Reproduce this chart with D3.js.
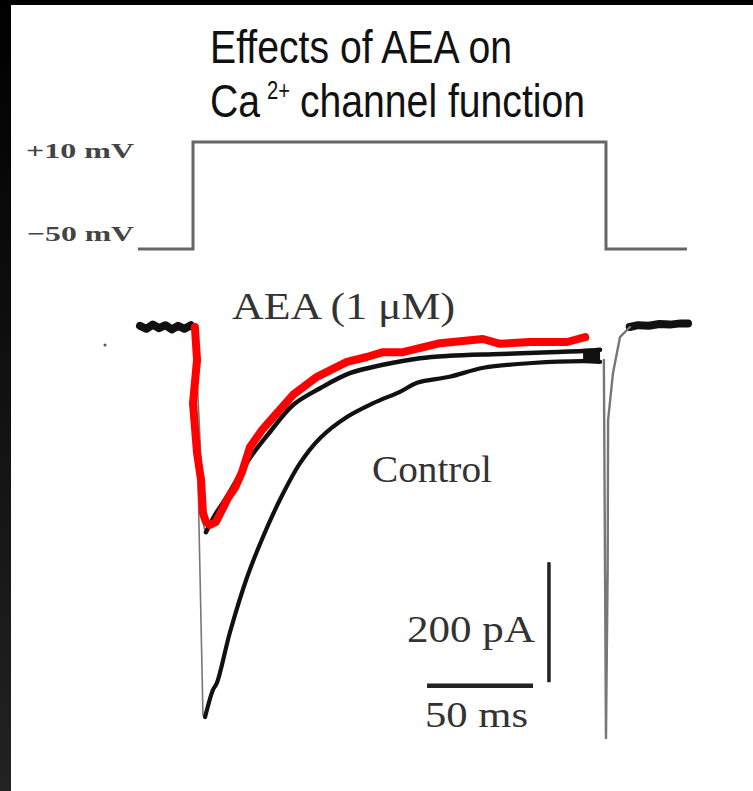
<!DOCTYPE html>
<html>
<head>
<meta charset="utf-8">
<script src="https://cdn.jsdelivr.net/npm/d3@7"></script>
<style>
  html, body { margin: 0; padding: 0; background: #fff; }
  svg { display: block; }
</style>
</head>
<body>
<script>
// ---------- data (time in ms, current in pA, voltage in mV) ----------
const stepT = [-26, 0, 0, 194.8, 194.8, 233];
const stepV = [-50, -50, 10, 10, -50, -50];
const voltageTicks = ["+10 mV", "\u221250 mV"];

const preBaseT = [-25, -22, -19, -16, -13, -10, -7, -4, -1, 0];
const preBaseI = [2, -3, 4, -2, 3, -4, 2, -3, 3, 0];

const controlOnsetT = [0.9, 4.7, 5.7];
const controlOnsetI = [-5, -647, -650];
const controlT = [5.7, 9.4, 11.3, 17.5, 25.5, 33, 41, 50.5, 60, 72.6, 85, 97.6, 105.7, 121, 137, 160, 184, 192];
const controlI = [-650, -605, -593, -508, -417, -350, -288, -227, -185, -150, -127, -108, -93, -83, -68, -60, -57, -58];

const aeaOnsetT = [0.9, 5.2, 6.1];
const aeaOnsetI = [-5, -335, -342];
const aeaT = [6.1, 10.4, 15.1, 19.8, 26.9, 36.3, 47.2, 60, 74, 89.6, 107, 121, 145, 168, 184, 192];
const aeaI = [-342, -313, -288, -260, -218, -175, -130, -102, -77, -63, -52, -48, -45, -42, -40, -38];

const tailT = [193.8, 194.8, 195.6, 195.8, 198.1, 201.4, 206.1];
const tailI = [-55, -685, -400, -155, -77, -17, 0];

const postBaseT = [206, 210, 215, 220, 225, 230, 233.5];
const postBaseI = [0, 3, 2, 5, 4, 6, 6];

const redT = [0.9, 1.9, 0, 1.9, 3.8, 4.7, 6.1, 8, 10.8, 13.7, 16.5, 19.8, 23.1, 26.9, 32.5, 38.7, 47.2, 58.5, 72.6, 82, 89.6, 99, 116.5, 136.8, 144.8, 159, 176.4, 185];
const redI = [0, -55, -127, -210, -255, -310, -325, -330, -325, -305, -285, -268, -242, -200, -172, -147, -113, -83, -58, -50, -42, -42, -27, -20, -28, -25, -25, -17];

const scaleBarMs = 50;
const scaleBarPA = 200;
const traceLabels = ["AEA (1 \u03bcM)", "Control"];
const titleLine1 = "Effects of AEA on";
const titleLine2 = ["Ca", "2+", "channel function"];

// ---------- drawing ----------
const W = 753, H = 791;
const svg = d3.select("body").append("svg").attr("width", W).attr("height", H);

// frame
const grad = svg.append("defs").append("linearGradient")
  .attr("id", "lg").attr("x1", 0).attr("y1", 0).attr("x2", 0).attr("y2", 1);
grad.append("stop").attr("offset", "0%").attr("stop-color", "#000");
grad.append("stop").attr("offset", "100%").attr("stop-color", "#222");
svg.append("rect").attr("x", 0).attr("y", 0).attr("width", W).attr("height", H).attr("fill", "#fff");
svg.append("rect").attr("x", 0).attr("y", 0).attr("width", 11).attr("height", H).attr("fill", "url(#lg)");
svg.append("rect").attr("x", 0).attr("y", 0).attr("width", W).attr("height", 5).attr("fill", "#000");

// title
const tfont = "'Liberation Sans Narrow', 'Liberation Sans', Arial, sans-serif";
function ttext(x0, y0, size, len, s) {
  return svg.append("text").attr("x", x0).attr("y", y0)
    .attr("font-family", tfont).attr("font-size", size).attr("fill", "#111")
    .attr("textLength", len).attr("lengthAdjust", "spacingAndGlyphs").text(s);
}
ttext(210, 63, 46, 302, titleLine1);
ttext(210, 117, 46, 50, titleLine2[0]);
ttext(267, 99, 25, 23, titleLine2[1]);
ttext(300, 117, 46, 285, titleLine2[2]);

// scales
const x = d3.scaleLinear().domain([0, 50]).range([193, 299]);
const y = d3.scaleLinear().domain([0, -200]).range([327, 447]);
const yV = d3.scaleLinear().domain([-50, 10]).range([249, 142]);

const zip = (a, b) => a.map((v, i) => [v, b[i]]);
const lineI = d3.line().x(d => x(d[0])).y(d => y(d[1]));
const lineIc = d3.line().x(d => x(d[0])).y(d => y(d[1])).curve(d3.curveCatmullRom.alpha(0.5));
const lineV = d3.line().x(d => x(d[0])).y(d => yV(d[1]));

// voltage protocol
svg.append("path").attr("d", lineV(zip(stepT, stepV)))
  .attr("fill", "none").attr("stroke", "#666").attr("stroke-width", 3);

const sfont = "'Liberation Serif', 'Times New Roman', serif";
svg.append("text").attr("x", 26).attr("y", 158)
  .attr("font-family", sfont).attr("font-size", 22).attr("font-weight", "bold").attr("fill", "#444")
  .attr("textLength", 108).attr("lengthAdjust", "spacingAndGlyphs").text(voltageTicks[0]);
svg.append("text").attr("x", 27).attr("y", 241)
  .attr("font-family", sfont).attr("font-size", 22).attr("font-weight", "bold").attr("fill", "#444")
  .attr("textLength", 107).attr("lengthAdjust", "spacingAndGlyphs").text(voltageTicks[1]);

// current traces
const g = svg.append("g").attr("stroke-linejoin", "round").attr("stroke-linecap", "round").attr("fill", "none");
g.append("path").attr("d", lineI(zip(preBaseT, preBaseI))).attr("stroke", "#111").attr("stroke-width", 8);
g.append("path").attr("d", lineI(zip(postBaseT, postBaseI))).attr("stroke", "#111").attr("stroke-width", 8);
g.append("path").attr("d", lineI(zip(controlOnsetT, controlOnsetI))).attr("stroke", "#777").attr("stroke-width", 1.6);
g.append("path").attr("d", lineI(zip(aeaOnsetT, aeaOnsetI))).attr("stroke", "#777").attr("stroke-width", 1.6);
g.append("path").attr("d", lineIc(zip(controlT, controlI))).attr("stroke", "#111").attr("stroke-width", 4.2);
g.append("path").attr("d", lineIc(zip(aeaT, aeaI))).attr("stroke", "#111").attr("stroke-width", 4.5);
g.append("path").attr("d", lineI(zip(tailT, tailI))).attr("stroke", "#777").attr("stroke-width", 2.4);
// noisy end block where the two traces meet
g.append("path").attr("d", lineI(zip([184, 192], [-48, -48]))).attr("stroke", "#111").attr("stroke-width", 14).attr("stroke-linecap", "butt");
// small speck
svg.append("circle").attr("cx", x(-41.5)).attr("cy", y(-30)).attr("r", 1.5).attr("fill", "#555");

// red annotation
g.append("path").attr("d", lineI(zip(redT, redI))).attr("stroke", "#ff0000").attr("stroke-width", 8);

// labels
svg.append("text").attr("x", 232).attr("y", 319)
  .attr("font-family", sfont).attr("font-size", 38).attr("fill", "#333")
  .attr("textLength", 223).attr("lengthAdjust", "spacingAndGlyphs").text(traceLabels[0]);
svg.append("text").attr("x", 372).attr("y", 482)
  .attr("font-family", sfont).attr("font-size", 38).attr("fill", "#333")
  .attr("textLength", 120).attr("lengthAdjust", "spacingAndGlyphs").text(traceLabels[1]);

// scale bars
const sbT = 110.4, sbI = -598, sbVx = 167.9, sbTop = -392;
svg.append("line").attr("x1", x(sbVx)).attr("x2", x(sbVx)).attr("y1", y(sbTop)).attr("y2", y(sbTop - scaleBarPA))
  .attr("stroke", "#222").attr("stroke-width", 3.5);
svg.append("line").attr("x1", x(sbT)).attr("x2", x(sbT + scaleBarMs)).attr("y1", y(sbI)).attr("y2", y(sbI))
  .attr("stroke", "#222").attr("stroke-width", 4.5);
svg.append("text").attr("x", 407).attr("y", 642)
  .attr("font-family", sfont).attr("font-size", 38).attr("fill", "#333")
  .attr("textLength", 128).attr("lengthAdjust", "spacingAndGlyphs").text(scaleBarPA + " pA");
svg.append("text").attr("x", 425).attr("y", 727)
  .attr("font-family", sfont).attr("font-size", 35).attr("fill", "#333")
  .attr("textLength", 103).attr("lengthAdjust", "spacingAndGlyphs").text(scaleBarMs + " ms");
</script>
</body>
</html>
